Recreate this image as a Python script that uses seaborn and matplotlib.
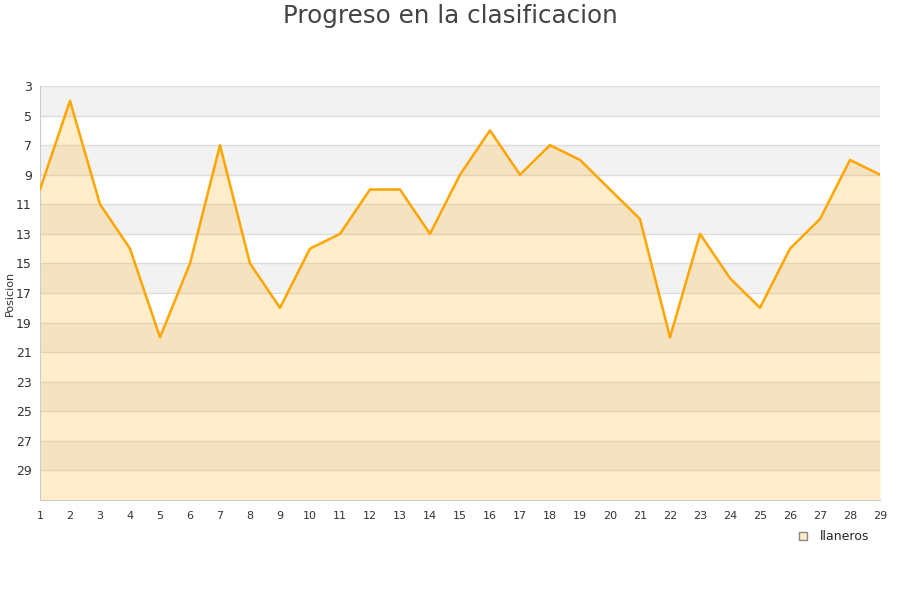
import matplotlib
matplotlib.use("Agg")
import matplotlib.pyplot as plt
import seaborn as sns
import pandas as pd

# jornadas and position per jornada
jornadas = list(range(1, 30))
posicion = [10, 4, 11, 14, 20, 15, 7, 15, 18, 14, 13, 10, 10, 13, 9, 6, 9, 7, 8, 10,
            12, 20, 13, 16, 18, 14, 12, 8, 9]
equipo = "llaneros"
y_ticks = list(range(3, 30, 2))

df = pd.DataFrame({"jornada": jornadas, "posicion": posicion})

sns.set_style("white")
plt.rcParams['font.family'] = ['DejaVu Sans']

fig = plt.figure(figsize=(9, 6), dpi=100)
ax = fig.add_axes([40 / 900, 100 / 600, 840 / 900, 414 / 600])

# alternating bands
for i, lo in enumerate(range(3, 31, 2)):
    if i % 2 == 0:
        ax.axhspan(lo, lo + 2, color="#f2f2f2", zorder=0, lw=0)
for t in range(3, 31, 2):
    ax.axhline(t, color="#dddddd", lw=1, zorder=1)

ax.fill_between(df["jornada"], df["posicion"], 31, color="#ffa500", alpha=0.2,
                lw=0, zorder=2)
sns.lineplot(data=df, x="jornada", y="posicion", color="#ffa500", lw=1.8, ax=ax,
             zorder=3)

ax.set_xlim(1, 29)
ax.set_ylim(31, 3)
ax.set_xticks(jornadas)
ax.set_yticks(y_ticks)
ax.tick_params(axis="x", labelsize=8, colors="#333333", length=0, pad=8)
ax.tick_params(axis="y", labelsize=9, colors="#333333", length=0, pad=6)
ax.set_xlabel("")
ax.set_ylabel("Posicion", fontsize=8, color="#333333", labelpad=1)
for s in ["top", "right"]:
    ax.spines[s].set_visible(False)
for s in ["left", "bottom"]:
    ax.spines[s].set_color("#cccccc")

fig.text(0.5, 1 - 16 / 600, "Progreso en la clasificacion", ha="center", va="center",
         fontsize=17.7, color="#444444")

handle = plt.Line2D([], [], marker="s", ls="", markersize=6,
                    markerfacecolor="#ffebc8", markeredgecolor="#888888")
fig.legend([handle], [equipo], loc="center", bbox_to_anchor=(830 / 900, 1 - 537 / 600),
           frameon=False, fontsize=9, handletextpad=0.3)

fig.savefig("out.png", dpi=100)
